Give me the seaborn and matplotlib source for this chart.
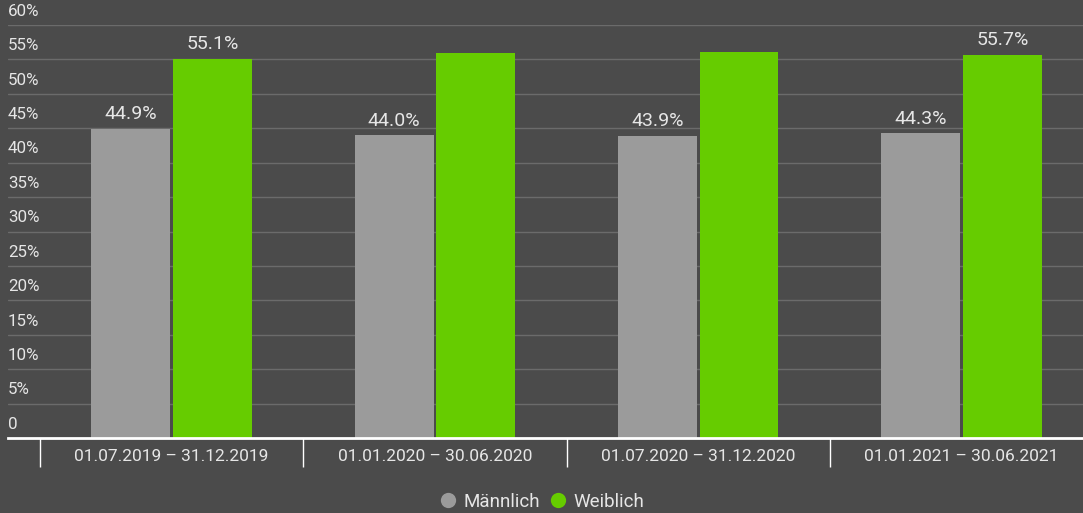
import matplotlib
matplotlib.use("Agg")
import matplotlib.pyplot as plt
import matplotlib.transforms as mtransforms
from matplotlib.lines import Line2D
import seaborn as sns
import pandas as pd

# Half-year periods and gender shares (%)
periods = ["01.07.2019 – 31.12.2019", "01.01.2020 – 30.06.2020",
           "01.07.2020 – 31.12.2020", "01.01.2021 – 30.06.2021"]
maennlich = [44.9, 44.0, 43.9, 44.3]
weiblich = [55.1, 56.0, 56.1, 55.7]
# Value labels printed above the bars (blank where none is shown)
labels_m = ["44.9%", "44.0%", "43.9%", "44.3%"]
labels_w = ["55.1%", "", "", "55.7%"]
y_ticks = [0, 5, 10, 15, 20, 25, 30, 35, 40, 45, 50, 55, 60]
y_tick_labels = ["0", "5%", "10%", "15%", "20%", "25%", "30%", "35%",
                 "40%", "45%", "50%", "55%", "60%"]
series = ["Männlich", "Weiblich"]

BG = "#4b4b4b"
GRAY = "#9b9b9b"
GREEN = "#66cc00"
TEXT = "#e6e6e6"
GRID = "#6b6b6b"

sns.set_theme(style="dark")
plt.rcParams["font.family"] = ["Roboto", "DejaVu Sans"]

df = pd.DataFrame({
    "Zeitraum": periods * 2,
    "Anteil": maennlich + weiblich,
    "Geschlecht": [series[0]] * len(periods) + [series[1]] * len(periods),
})

W, H = 1083, 513
fig = plt.figure(figsize=(W / 100, H / 100), dpi=100, facecolor=BG)
ax = fig.add_axes([8 / W, 75 / H, 1 - 8 / W, (438 - 25) / H])
ax.set_facecolor(BG)

sns.barplot(data=df, x="Zeitraum", y="Anteil", hue="Geschlecht",
            palette=[GRAY, GREEN], width=0.62, gap=0.035, ax=ax,
            legend=False, saturation=1, edgecolor="none", linewidth=0,
            zorder=3)

for cont, labs in zip(ax.containers, [labels_m, labels_w]):
    ax.bar_label(cont, labels=labs, padding=4, color=TEXT, fontsize=14,
                 zorder=4)

# category axis starts a little right of the y labels and runs past the edge
cat_w = 263.3
ax.set_xlim(-0.5 - 32 / cat_w, -0.5 + (W - 40) / cat_w)
ax.set_ylim(0, 60)

# horizontal gridlines
for v in y_ticks[1:]:
    ax.axhline(v, color=GRID, lw=1, zorder=1)
ax.set_yticks([])
ax.set_ylabel("")
ax.set_xlabel("")
trans = mtransforms.blended_transform_factory(ax.transAxes, ax.transData)
for v, t in zip(y_ticks, y_tick_labels):
    ax.text(0.0, v + 0.9, t, transform=trans, ha="left", va="bottom",
            color=TEXT, fontsize=12.2)

# category separators below the axis, labels centred between them
ax.set_xticks([-0.5, 0.5, 1.5, 2.5])
ax.set_xticklabels([])
ax.set_xticks(range(len(periods)), minor=True)
ax.set_xticklabels(periods, minor=True, color=TEXT, fontsize=12.5)
ax.tick_params(axis="x", which="major", length=21, width=1, color="white",
               direction="out", bottom=True)
ax.tick_params(axis="x", which="minor", length=0, pad=8)

for s in ["top", "right", "left"]:
    ax.spines[s].set_visible(False)
ax.spines["bottom"].set_color("white")
ax.spines["bottom"].set_linewidth(2)
ax.spines["bottom"].set_zorder(5)

handles = [Line2D([], [], marker="o", ls="none", markersize=11,
                  markerfacecolor=c, markeredgecolor="none")
           for c in (GRAY, GREEN)]
fig.legend(handles, series, loc="center", bbox_to_anchor=(0.5, 11 / H),
           ncol=2, frameon=False, fontsize=13.5, labelcolor=TEXT,
           handletextpad=0.3, columnspacing=0.5, handlelength=1.0)

fig.savefig("out.png", dpi=100, facecolor=BG)
